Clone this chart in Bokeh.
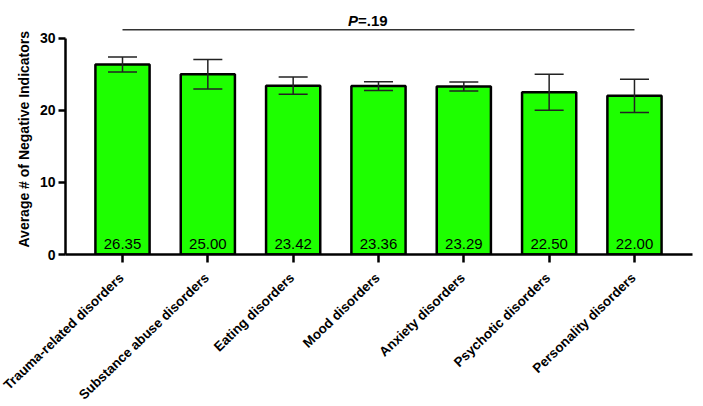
import math
from bokeh.plotting import figure
from bokeh.layouts import column
from bokeh.models import FixedTicker, Label, Range1d, ColumnDataSource, Title
from bokeh.core.properties import value
from bokeh.embed import file_html
from bokeh.resources import INLINE

categories = ["Trauma-related disorders", "Substance abuse disorders", "Eating disorders",
              "Mood disorders", "Anxiety disorders", "Psychotic disorders", "Personality disorders"]
means = [26.35, 25.00, 23.42, 23.36, 23.29, 22.50, 22.00]
errors = [1.05, 2.05, 1.2, 0.6, 0.63, 2.5, 2.3]
value_labels = ["26.35", "25.00", "23.42", "23.36", "23.29", "22.50", "22.00"]
y_ticks = [0, 10, 20, 30]
p_text = "=.19"
p_line_y = 31.17
y_title = "Average # of Negative Indicators"

FONT = "Liberation Sans"
W = 700
TOTAL_H = 404
X0, X1 = 0.332, 7.68
BL, BR, BT, BB = 65, 8, 10, 10
TOP_H = 264
xs = list(range(1, len(categories) + 1))

p = figure(width=W, height=TOP_H, output_backend="svg", toolbar_location=None,
           x_range=Range1d(X0, X1), y_range=Range1d(0, 33.84), frame_align=False,
           min_border_left=BL, min_border_right=BR, min_border_top=BT, min_border_bottom=BB)
p.outline_line_color = None
p.xgrid.visible = False
p.ygrid.visible = False

src = ColumnDataSource(dict(x=xs, top=means, lo=[m - e for m, e in zip(means, errors)],
                            hi=[m + e for m, e in zip(means, errors)],
                            cl=[x - 0.17 for x in xs], cr=[x + 0.17 for x in xs],
                            lab=value_labels, cat=categories))

p.vbar(x="x", top="top", bottom=0, width=0.635, source=src,
       fill_color="#1EFF00", line_color="black", line_width=2.5)
p.segment(x0="x", y0="lo", x1="x", y1="hi", source=src, line_color="#222222", line_width=1.5)
p.segment(x0="cl", y0="hi", x1="cr", y1="hi", source=src, line_color="#222222", line_width=1.5)
p.segment(x0="cl", y0="lo", x1="cr", y1="lo", source=src, line_color="#222222", line_width=1.5)
p.text(x="x", y=0.7, text="lab", source=src, text_font=value(FONT), text_font_size="15px",
       text_align="center", text_baseline="bottom", text_color="black")

# significance line
p.segment(x0=[xs[0]], y0=[p_line_y], x1=[xs[-1]], y1=[p_line_y], line_color="#333333", line_width=1.5)
p.add_layout(Label(x=3.76, y=32.45, text="P", text_font=FONT, text_font_size="15px",
                   text_font_style="bold italic", text_align="right", text_baseline="alphabetic",
                   text_color="black"))
p.add_layout(Label(x=3.76, y=32.45, text=p_text, text_font=FONT, text_font_size="15px",
                   text_font_style="bold", text_align="left", text_baseline="alphabetic",
                   text_color="black"))

# y axis
ya = p.yaxis[0]
ya.ticker = FixedTicker(ticks=y_ticks)
ya.bounds = (0, 30)
ya.axis_line_width = 2.5
ya.major_tick_line_width = 2.5
ya.major_tick_out = 7
ya.major_tick_in = 0
ya.minor_tick_out = 0
ya.minor_tick_in = 0
ya.major_label_text_font = FONT
ya.major_label_text_font_size = "14px"
ya.major_label_text_font_style = "bold"
ya.major_label_text_color = "black"
ya.major_label_standoff = 3
ya.axis_label = None

p.add_layout(Title(text=y_title, align="left", offset=7, text_font=FONT,
                   text_font_size="14px", text_font_style="bold", text_color="black",
                   standoff=9), "left")

# x axis (ticks only; category names are drawn in the strip below)
xa = p.xaxis[0]
xa.ticker = FixedTicker(ticks=xs)
xa.major_label_overrides = {x: "" for x in xs}
xa.axis_line_width = 2.5
xa.major_tick_line_width = 2.5
xa.major_tick_out = 8
xa.major_tick_in = 0
xa.minor_tick_out = 0
xa.minor_tick_in = 0
xa.major_label_text_font_size = "1px"
xa.major_label_standoff = 0

# strip for rotated category labels, sharing the same x scale
ppu = (W - BL - BR) / (X1 - X0)
q_h = TOTAL_H - TOP_H
q = figure(width=W, height=q_h, output_backend="svg", toolbar_location=None,
           x_range=Range1d(X0 - BL / ppu, X1 + BR / ppu), y_range=Range1d(-q_h, 0),
           frame_align=False,
           min_border_left=0, min_border_right=0, min_border_top=0, min_border_bottom=0)
q.axis.visible = False
q.grid.visible = False
q.outline_line_color = None
q.text(x="x", y=0, text="cat", source=src, angle=math.radians(44), x_offset=-1, y_offset=11,
       text_font=value(FONT), text_font_size="13.4px", text_font_style="bold",
       text_align="right", text_baseline="middle", text_color="black")

layout = column(p, q, spacing=0)
open("out.html", "w").write(file_html(layout, INLINE))
